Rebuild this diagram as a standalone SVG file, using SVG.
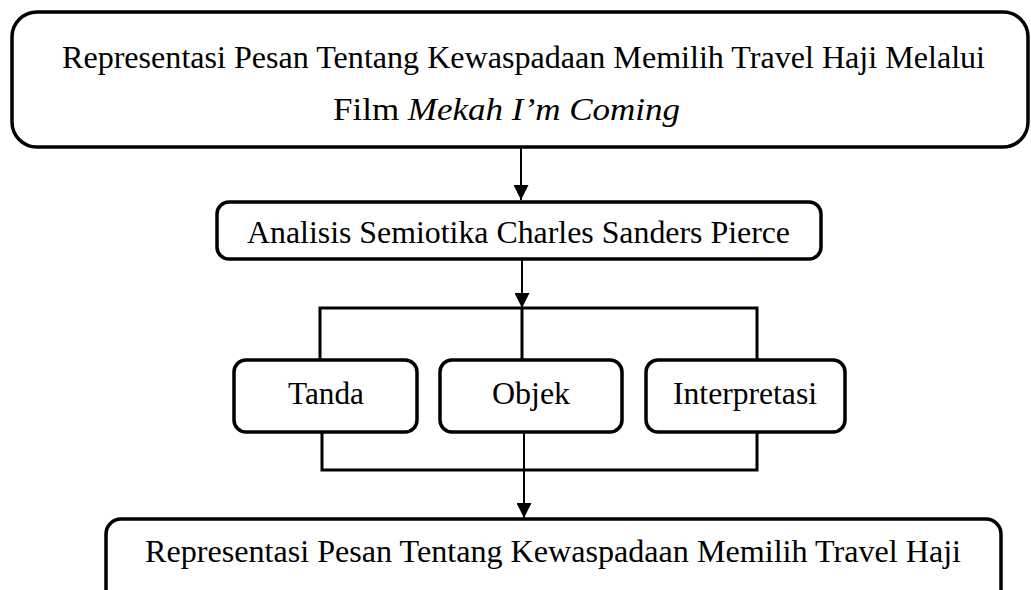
<svg xmlns="http://www.w3.org/2000/svg" width="1031" height="590" viewBox="0 0 1031 590">
<style>
.box{fill:#fff;stroke:#000;stroke-width:3.5}
.t{font-family:"Liberation Serif","Times New Roman",serif;font-size:32px;fill:#000}
.c{fill:none;stroke:#000;stroke-width:3}
.a{fill:none;stroke:#000;stroke-width:2}
</style>
<defs>
<marker id="dn" markerWidth="15" markerHeight="15" refX="7.5" refY="15" orient="0" markerUnits="userSpaceOnUse" viewBox="0 0 15 15">
<path d="M0,0 L15,0 L7.5,15 Z" fill="#000"/>
</marker>
</defs>
<rect width="1031" height="590" fill="#fff"/>
<g id="connectors">
<line class="a" x1="521" y1="148" x2="521" y2="200" marker-end="url(#dn)"/>
<line class="a" x1="522" y1="260" x2="522" y2="308" marker-end="url(#dn)"/>
<polyline class="c" points="320,360 320,308 757,308 757,360"/>
<line class="c" x1="522" y1="308" x2="522" y2="360"/>
<polyline class="c" points="322,432 322,470 757,470 757,432"/>
<line class="a" x1="524" y1="432" x2="524" y2="518" marker-end="url(#dn)"/>
</g>
<g id="node-top">
<rect class="box" x="12" y="12" width="1016" height="135" rx="25"/>
<text class="t" x="62" y="68" textLength="923" lengthAdjust="spacingAndGlyphs">Representasi Pesan Tentang Kewaspadaan Memilih Travel Haji Melalui</text>
<text class="t" x="333" y="120" textLength="347" lengthAdjust="spacingAndGlyphs">Film <tspan font-style="italic">Mekah I’m Coming</tspan></text>
</g>
<g id="node-analisis">
<rect class="box" x="217" y="202" width="604" height="57" rx="12"/>
<text class="t" x="247" y="243" textLength="543" lengthAdjust="spacingAndGlyphs">Analisis Semiotika Charles Sanders Pierce</text>
</g>
<g id="node-tanda">
<rect class="box" x="234" y="360" width="183" height="72" rx="12"/>
<text class="t" x="288" y="404" textLength="76" lengthAdjust="spacingAndGlyphs">Tanda</text>
</g>
<g id="node-objek">
<rect class="box" x="440" y="360" width="182" height="72" rx="12"/>
<text class="t" x="531" y="404" text-anchor="middle">Objek</text>
</g>
<g id="node-interpretasi">
<rect class="box" x="646" y="360" width="199" height="72" rx="12"/>
<text class="t" x="673" y="404" textLength="144" lengthAdjust="spacingAndGlyphs">Interpretasi</text>
</g>
<g id="node-bottom">
<rect class="box" x="106" y="519" width="895" height="90" rx="15"/>
<text class="t" x="145" y="562" textLength="816" lengthAdjust="spacingAndGlyphs">Representasi Pesan Tentang Kewaspadaan Memilih Travel Haji</text>
</g>
</svg>
